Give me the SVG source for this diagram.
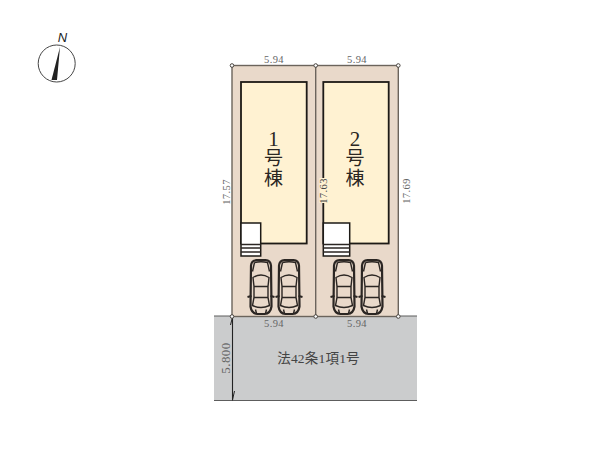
<svg xmlns="http://www.w3.org/2000/svg" width="600" height="450" viewBox="0 0 600 450">
<style>
text{font-family:"Liberation Serif","Noto Sans CJK JP",serif;fill:#666}
.dim{font-size:10.5px;letter-spacing:.4px;text-anchor:middle}
.big{font-size:19px;text-anchor:middle;fill:#2a2622}
.num{font-size:21px;text-anchor:middle;fill:#2a2622}
.lot{fill:#e9d9ca;stroke:#6b645c;stroke-width:1.4}
.house{fill:#fff2d2;stroke:#1d1a16;stroke-width:1.8}
.stair{fill:#fff;stroke:#1d1a16;stroke-width:1.5}
.pin{fill:#fff;stroke:#4a4540;stroke-width:1}
.c{fill:none;stroke:#2b2623;stroke-width:1.4}
</style>
<defs>
<g id="car">
<path class="c" style="stroke-width:2.200" d="M1.500 6Q2 1 7 .7H16Q21 1 21.500 6L22 47Q21 54 15 54.500H8Q2 54 1 47Z"/>
<path class="c" d="M3.500 18Q11.500 13 19.500 18L18.500 27V38L20 46Q11.500 50 3 46L4.500 38V27Z"/>
<path class="c" d="M5 3Q11.500 1.500 18 3L20 12M5 3L3 12M4.500 27H18.500M4.500 38H18.500M6 50L7 54M17 50L16 54"/>
<path class="c" style="stroke-width:2" d="M2 36.500L-2 37.500M21 36.500L25 37.500"/>
</g>
</defs>
<g id="road">
<rect x="214" y="316" width="203" height="84.500" fill="#cbcccd"/>
<path d="M214 316H417M214 400.500H417" stroke="#5d5d5d" stroke-width="1" fill="none"/>
</g>
<g id="lot-1"><rect class="lot" x="232" y="65.500" width="83.700" height="251"/></g>
<g id="lot-2"><rect class="lot" x="315.700" y="65.500" width="82.600" height="251"/></g>
<g id="house-1">
<rect class="house" x="241" y="82" width="65.700" height="161.500"/>
<text class="num" x="273.500" y="146">1</text>
<text class="big" x="273.500" y="165">号</text>
<text class="big" x="273.500" y="185">棟</text>
</g>
<g id="house-2">
<rect class="house" x="323.300" y="82" width="65.400" height="161.500"/>
<text class="num" x="355" y="146">2</text>
<text class="big" x="355" y="165">号</text>
<text class="big" x="355" y="185">棟</text>
</g>
<g id="stairs-1">
<rect class="stair" x="241" y="223" width="19.700" height="33"/>
<path class="c" style="stroke-width:1.300" d="M241 244.500H260.700M241 248H260.700M241 252H260.700"/>
</g>
<g id="stairs-2">
<rect class="stair" x="323.300" y="223" width="26.400" height="33"/>
<path class="c" style="stroke-width:1.300" d="M323.300 244.500H349.700M323.300 248H349.700M323.300 252H349.700"/>
</g>
<g id="cars">
<use href="#car" x="249.500" y="259.500"/>
<use href="#car" x="277.500" y="259.500"/>
<use href="#car" x="332.500" y="259.500"/>
<use href="#car" x="360.500" y="259.500"/>
</g>
<g id="connectors">
<path d="M232.500 316V400.500" stroke="#222" stroke-width="1.100" fill="none"/>
<path d="M232.500 317L230.500 325M232.500 400L234.500 391" stroke="#222" stroke-width="1" fill="none"/>
<circle class="pin" cx="232" cy="65.500" r="1.800"/>
<circle class="pin" cx="315.700" cy="65.500" r="1.800"/>
<circle class="pin" cx="398.300" cy="65.500" r="1.800"/>
<circle class="pin" cx="232" cy="316.500" r="1.800"/>
<circle class="pin" cx="315.700" cy="316.500" r="1.800"/>
<circle class="pin" cx="398.300" cy="316.500" r="1.800"/>
</g>
<g id="dimensions">
<text class="dim" x="274" y="63">5.94</text>
<text class="dim" x="357" y="63">5.94</text>
<text class="dim" x="274" y="327">5.94</text>
<text class="dim" x="357" y="327">5.94</text>
<text class="dim" transform="translate(229.500 192) rotate(-90)">17.57</text>
<rect x="319.500" y="178" width="6" height="25" fill="#fff2d2"/>
<text class="dim" style="fill:#444" transform="translate(326.500 191) rotate(-90)">17.63</text>
<text class="dim" transform="translate(409.500 191) rotate(-90)">17.69</text>
<text transform="translate(229.500 358) rotate(-90)" text-anchor="middle" style="font-size:13px;letter-spacing:.4px">5.800</text>
<text x="318.500" y="363" text-anchor="middle" style="font-size:13.500px;letter-spacing:.2px;fill:#444">法42条1項1号</text>
</g>
<g id="compass">
<circle cx="56.700" cy="63.500" r="18.500" fill="#fff" stroke="#444" stroke-width="1"/>
<path d="M60 47L51.500 80L57 80Z" fill="#222"/>
<text x="62.500" y="42" text-anchor="middle" style="font-family:'Liberation Sans',sans-serif;font-size:13px;font-style:italic;fill:#222">N</text>
</g>
</svg>
